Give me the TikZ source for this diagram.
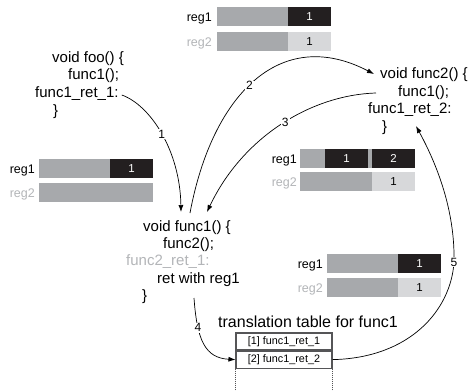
\documentclass[tikz,border=0pt]{standalone}
\usepackage{fontspec}
\setmainfont{Liberation Sans}
\usetikzlibrary{arrows.meta,calc}
\definecolor{barg}{HTML}{A7A9AC}
\definecolor{bard}{HTML}{231F20}
\definecolor{barl}{HTML}{D7D8DA}
\definecolor{gtxt}{HTML}{B3B5B8}
\definecolor{tline}{HTML}{555557}
\tikzset{
  code/.style={anchor=base west, inner sep=0, font=\fontsize{15bp}{17bp}\selectfont},
  reglbl/.style={anchor=base east, inner sep=0, font=\fontsize{12.5bp}{14bp}\selectfont},
  regnum/.style={inner sep=0, font=\fontsize{11.5bp}{13bp}\selectfont},
  conn/.style={line width=0.7bp, -{Latex[length=7bp,width=5bp]}},
  steplbl/.style={fill=white, inner sep=1bp, font=\fontsize{12bp}{14bp}\selectfont},
  rowbox/.style={draw=tline, line width=1.1bp, minimum width=96bp, minimum height=17bp, inner sep=0, font=\fontsize{10.8bp}{12bp}\selectfont},
}
\begin{document}
\begin{tikzpicture}[x=1bp,y=-1bp]
\useasboundingbox[fill=white] (0,0) rectangle (472,390);

% ---------- register bars: top ----------
\fill[barg] (217,7) rectangle (288,26);
\fill[bard] (288,7) rectangle (331,26);
\node[regnum, text=white] (t1n) at (309.5,16.5) {1};
\fill[barg] (217,32) rectangle (288,51);
\fill[barl] (288,32) rectangle (331,51);
\node[regnum] (t2n) at (309.5,41.5) {1};
\node[reglbl] (t1l) at (212,21) {reg1};
\node[reglbl, text=gtxt] (t2l) at (212,46) {reg2};

% ---------- register bars: left ----------
\fill[barg] (39,159) rectangle (110,178);
\fill[bard] (110,159) rectangle (153,178);
\node[regnum, text=white] (l1n) at (131.5,168.5) {1};
\fill[barg] (39,183) rectangle (153,202);
\node[reglbl] (l1l) at (35,173) {reg1};
\node[reglbl, text=gtxt] (l2l) at (35,197) {reg2};

% ---------- register bars: middle ----------
\fill[barg] (300,149) rectangle (415,168);
\fill[bard] (325,149) rectangle (368,168);
\fill[bard] (372,149) rectangle (415,168);
\node[regnum, text=white] (m1n) at (346.5,158.5) {1};
\node[regnum, text=white] (m2n) at (393.5,158.5) {2};
\fill[barg] (300,172) rectangle (372,191);
\fill[barl] (372,172) rectangle (415,191);
\node[regnum] (m3n) at (393.5,181.5) {1};
\node[reglbl] (m1l) at (297,163) {reg1};
\node[reglbl, text=gtxt] (m2l) at (297,186) {reg2};

% ---------- register bars: bottom right ----------
\fill[barg] (327,254) rectangle (398,273);
\fill[bard] (398,254) rectangle (441,273);
\node[regnum, text=white] (b1n) at (419.5,263.5) {1};
\fill[barg] (327,278) rectangle (398,297);
\fill[barl] (398,278) rectangle (441,297);
\node[regnum] (b2n) at (419.5,287.5) {1};
\node[reglbl] (b1l) at (323,268) {reg1};
\node[reglbl, text=gtxt] (b2l) at (323,292) {reg2};

% ---------- foo ----------
\node[code] (foohead) at (52,62) {void foo() \{};
\node[code] (foocall) at (68,79) {func1();};
\node[code] (fooret) at (35,97) {func1\_ret\_1:};
\node[code] (fooend) at (53,115) {\}};

% ---------- func2 ----------
\node[code] (f2head) at (380,78) {void func2() \{};
\node[code] (f2call) at (398,96) {func1();};
\node[code] (f2ret) at (368,113) {func1\_ret\_2:};
\node[code] (f2end) at (382,131) {\}};

% ---------- func1 ----------
\node[code] (f1head) at (143,231) {void func1() \{};
\node[code] (f1call) at (163,248) {func2();};
\node[code, text=gtxt] (f1ret) at (126,265) {func2\_ret\_1:};
\node[code] (f1retw) at (157,283) {ret with reg1};
\node[code] (f1end) at (142,300) {\}};

% ---------- translation table ----------
\node[anchor=base west, inner sep=0, font=\fontsize{16bp}{18bp}\selectfont] (ttitle) at (218,327) {translation table for func1};
\node[rowbox] (row1) at (284,341.5) {[1] func1\_ret\_1};
\node[rowbox, anchor=north] (row2) at (row1.south) {[2] func1\_ret\_2};
\draw[tline, line width=1bp, densely dotted] (row2.south west) -- ++(0,23);
\draw[tline, line width=1bp, densely dotted] (row2.south east) -- ++(0,23);

% ---------- connector end points ----------
\coordinate (in1) at ($(f1head.base west)+(38,-19)$);
\coordinate (out2) at ($(f1head.base west)+(47,-18)$);
\coordinate (in3) at ($(f1head.base west)+(64,-19)$);
\coordinate (in2) at ($(f2head.base west)+(-6,-4)$);
\coordinate (out3) at ($(f2call.base west)+(-22,-3)$);
\coordinate (in5) at ($(f2ret.base west)+(48,13)$);
\coordinate (out4) at ($(f1retw.base west)+(37,15)$);
\coordinate (mid5) at (454,262);

% ---------- connectors ----------
\draw[conn] ($(fooret.base east)+(3,-2)$) .. controls (150,105) and (180,150) .. (in1)
  node[steplbl, pos=0.5] {1};
\draw[conn] (out2) .. controls (212,95) and (280,25) .. (in2)
  node[steplbl, pos=0.47] {2};
\draw[conn] (out3) .. controls (310,95) and (242,138) .. (in3)
  node[steplbl, pos=0.47] {3};
\draw[conn] (out4) .. controls (197,340) and (205,358) .. (row2.west)
  node[steplbl, pos=0.28] {4};
\draw[conn] (row2.east) .. controls (410,358) and (451,310) .. (mid5)
  .. controls (455,215) and (440,170) .. (in5);
\node[steplbl] (l5) at (mid5) {5};
\end{tikzpicture}
\end{document}
